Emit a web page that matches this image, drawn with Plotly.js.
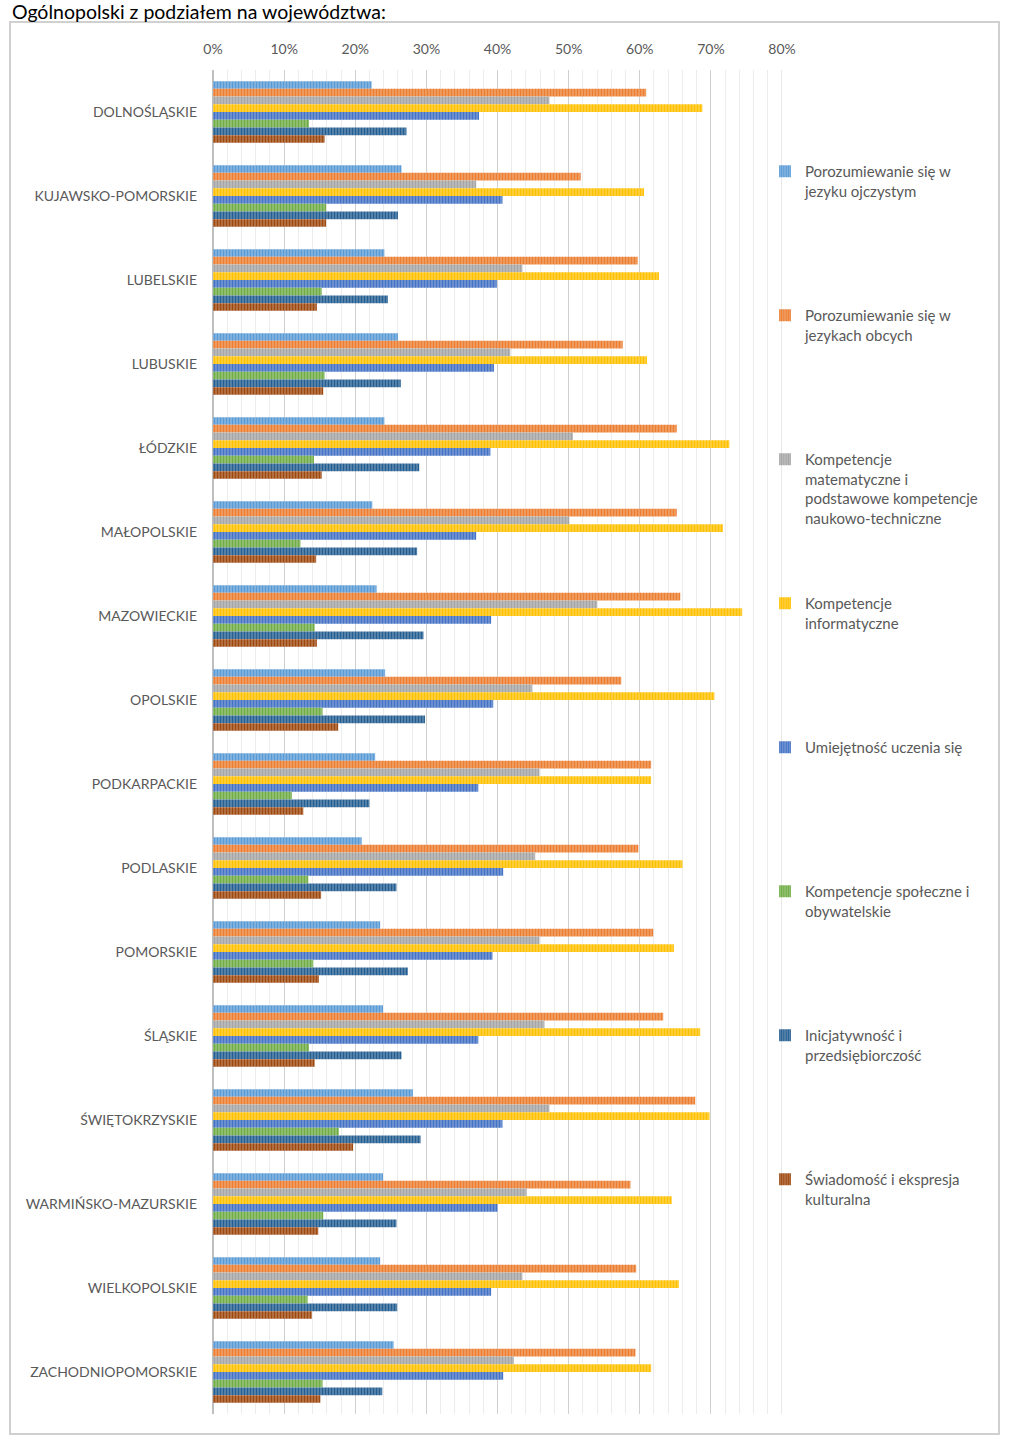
<!DOCTYPE html>
<html>
<head>
<meta charset="utf-8">
<script src="https://cdn.plot.ly/plotly-3.0.1.min.js"></script>
<style>
  html, body { margin: 0; padding: 0; background: #fff; }
  #chart { width: 1024px; height: 1451px; }
</style>
</head>
<body>
<div id="chart"></div>
<script>
const voivodeships = [
  "DOLNOŚLĄSKIE", "KUJAWSKO-POMORSKIE", "LUBELSKIE", "LUBUSKIE", "ŁÓDZKIE",
  "MAŁOPOLSKIE", "MAZOWIECKIE", "OPOLSKIE", "PODKARPACKIE", "PODLASKIE",
  "POMORSKIE", "ŚLĄSKIE", "ŚWIĘTOKRZYSKIE", "WARMIŃSKO-MAZURSKIE", "WIELKOPOLSKIE",
  "ZACHODNIOPOMORSKIE"
];

const seriesNames = [
  "Porozumiewanie się w<br>jezyku ojczystym",
  "Porozumiewanie się w<br>jezykach obcych",
  "Kompetencje<br>matematyczne i<br>podstawowe kompetencje<br>naukowo-techniczne",
  "Kompetencje<br>informatyczne",
  "Umiejętność uczenia się",
  "Kompetencje społeczne i<br>obywatelskie",
  "Inicjatywność i<br>przedsiębiorczość",
  "Świadomość i ekspresja<br>kulturalna"
];

// values in %, one array per series, in voivodeship order
const ojczysty     = [22.3, 26.5, 24.1, 26.0, 24.1, 22.4, 23.0, 24.2, 22.8, 20.9, 23.5, 23.9, 28.1, 23.9, 23.5, 25.4];
const obce         = [60.9, 51.7, 59.7, 57.6, 65.2, 65.2, 65.7, 57.4, 61.6, 59.8, 61.9, 63.3, 67.8, 58.7, 59.5, 59.4];
const matematyczne = [47.3, 37.0, 43.5, 41.8, 50.6, 50.1, 54.0, 44.9, 45.9, 45.3, 45.9, 46.6, 47.3, 44.1, 43.5, 42.3];
const informatyczne= [68.8, 60.6, 62.7, 61.0, 72.6, 71.7, 74.4, 70.5, 61.6, 66.0, 64.8, 68.5, 69.8, 64.5, 65.5, 61.6];
const uczenie      = [37.4, 40.7, 39.9, 39.5, 39.0, 37.0, 39.1, 39.4, 37.3, 40.8, 39.3, 37.3, 40.7, 40.0, 39.1, 40.8];
const spoleczne    = [13.5, 15.9, 15.3, 15.7, 14.2, 12.3, 14.3, 15.4, 11.1, 13.4, 14.1, 13.5, 17.7, 15.5, 13.3, 15.4];
const inicjatywnosc= [27.2, 26.0, 24.6, 26.4, 29.0, 28.7, 29.6, 29.8, 22.0, 25.8, 27.4, 26.5, 29.2, 25.8, 25.9, 23.8];
const kulturalna   = [15.7, 15.9, 14.6, 15.5, 15.3, 14.5, 14.6, 17.6, 12.7, 15.2, 14.9, 14.3, 19.7, 14.8, 13.9, 15.1];

const seriesValues = [ojczysty, obce, matematyczne, informatyczne, uczenie, spoleczne, inicjatywnosc, kulturalna];
const xTickVals = [0, 10, 20, 30, 40, 50, 60, 70, 80];
const xTickText = ["0%", "10%", "20%", "30%", "40%", "50%", "60%", "70%", "80%"];

const colors = ["#5B9BD5", "#ED7D31", "#A5A5A5", "#FFC000", "#4472C4", "#70AD47", "#255E91", "#9E480E"];

function tint(hex, f) {
  const r = parseInt(hex.slice(1, 3), 16), g = parseInt(hex.slice(3, 5), 16), b = parseInt(hex.slice(5, 7), 16);
  const m = v => Math.round(v + (255 - v) * f);
  return "rgb(" + m(r) + "," + m(g) + "," + m(b) + ")";
}

// layout geometry (pixels)
const W = 1024, H = 1451;
const plotL = 213, plotR = 782, plotT = 70, plotB = 1414;
const px2x = px => (px - plotL) / (plotR - plotL);
const py2y = py => (plotB - py) / (plotB - plotT);
const xMax = xTickVals[xTickVals.length - 1];

const traces = seriesValues.map((vals, i) => ({
  type: "bar",
  orientation: "h",
  name: seriesNames[i],
  x: vals,
  y: voivodeships,
  legend: i === 0 ? "legend" : "legend" + (i + 1),
  showlegend: true,
  marker: {
    color: colors[i],
    line: { width: 0 },
    pattern: { shape: "|", fillmode: "replace", fgcolor: colors[i], bgcolor: tint(colors[i], 0.35), size: 3, solidity: 0.6 }
  },
  hoverinfo: "x+y+name"
}));

const layout = {
  width: W,
  height: H,
  showlegend: true,
  margin: { l: plotL, r: W - plotR, t: plotT, b: H - plotB },
  paper_bgcolor: "#ffffff",
  plot_bgcolor: "#ffffff",
  font: { family: "Lato, 'Open Sans', sans-serif", color: "#595959", size: 14 },
  title: {
    text: "Ogólnopolski z podziałem na województwa:",
    font: { family: "Lato, 'Open Sans', sans-serif", size: 19.5, color: "#000000" },
    x: 12 / W, xanchor: "left", xref: "container",
    y: 1 - 12 / H, yanchor: "middle", yref: "container"
  },
  barmode: "group",
  bargap: 0.265,
  bargroupgap: 0,
  xaxis: {
    side: "top",
    range: [0, xMax],
    tickmode: "array",
    tickvals: xTickVals,
    ticktext: xTickText,
    showgrid: true,
    gridcolor: "#d0d0d0",
    gridwidth: 1,
    minor: { dtick: 2, showgrid: true, gridcolor: "#ececec", gridwidth: 1 },
    zeroline: true,
    zerolinecolor: "#bfbfbf",
    zerolinewidth: 2,
    ticks: "",
    ticklabelstandoff: 12,
    tickfont: { size: 14, color: "#595959" },
    fixedrange: true
  },
  yaxis: {
    type: "category",
    autorange: "reversed",
    showgrid: false,
    zeroline: false,
    ticks: "",
    ticklabelstandoff: 15,
    tickfont: { size: 14, color: "#595959" },
    fixedrange: true
  },
  shapes: [
    {
      type: "rect", xref: "paper", yref: "paper", layer: "below",
      x0: px2x(10), x1: px2x(999), y0: py2y(1434), y1: py2y(22),
      line: { color: "#d0d0d0", width: 2 }, fillcolor: "rgba(0,0,0,0)"
    },
    {
      // last major gridline at the right edge of the value axis
      type: "line", xref: "x", yref: "paper", layer: "below",
      x0: xMax, x1: xMax, y0: 0, y1: 1,
      line: { color: "#d0d0d0", width: 1 }
    }
  ]
};

seriesNames.forEach((_, i) => {
  const key = i === 0 ? "legend" : "legend" + (i + 1);
  layout[key] = {
    x: px2x(765), xanchor: "left",
    y: py2y(155 + 144 * i), yanchor: "top",
    bgcolor: "rgba(0,0,0,0)",
    borderwidth: 0,
    valign: "top",
    itemwidth: 30,
    font: { size: 15, color: "#595959", family: "Lato, 'Open Sans', sans-serif" },
    itemclick: false, itemdoubleclick: false
  };
});

Plotly.newPlot("chart", traces, layout, { displayModeBar: false, staticPlot: true });
</script>
</body>
</html>
